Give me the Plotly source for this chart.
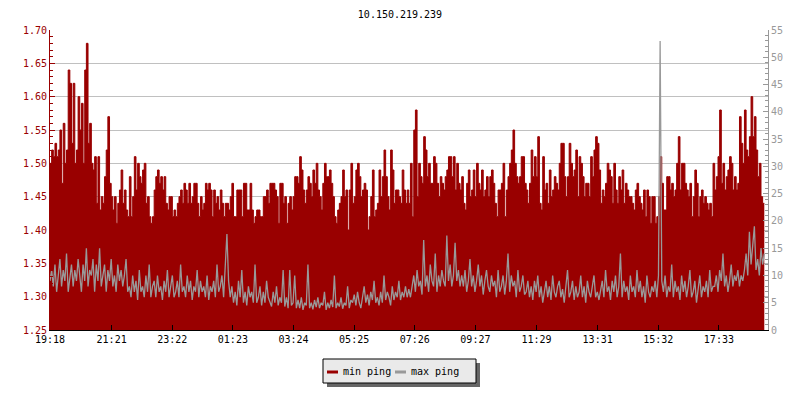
import pandas as pd
import plotly.graph_objects as go

TITLE = "10.150.219.239"
START = "2024-01-01 19:18"
END_LABEL = "19:11"
STEP_SECONDS = 198
TICK_LABELS = ["19:18", "21:21", "23:22", "01:23", "03:24", "05:25",
               "07:26", "09:27", "11:29", "13:31", "15:32", "17:33"]
LEFT_TICKS = [1.25, 1.30, 1.35, 1.40, 1.45, 1.50, 1.55, 1.60, 1.65, 1.70]
RIGHT_TICKS = [0, 5, 10, 15, 20, 25, 30, 35, 40, 45, 50, 55]
SERIES_NAMES = ["min ping", "max ping"]

MIN_PING = [
    1.50, 1.52, 1.51, 1.53, 1.51, 1.52, 1.55, 1.47, 1.56, 1.50, 1.52, 1.64, 1.62, 1.53, 1.62,
    1.50, 1.52, 1.60, 1.55, 1.59, 1.50, 1.64, 1.68, 1.53, 1.56, 1.50, 1.49, 1.51, 1.44, 1.51,
    1.43, 1.45, 1.44, 1.48, 1.52, 1.57, 1.47, 1.45, 1.43, 1.45, 1.41, 1.44, 1.46,
    1.49, 1.44, 1.46, 1.43, 1.42, 1.48, 1.42, 1.45, 1.51, 1.46, 1.50, 1.48, 1.47, 1.49, 1.50,
    1.44, 1.45, 1.42, 1.41, 1.42, 1.46, 1.48, 1.49, 1.47, 1.48, 1.46, 1.48, 1.44, 1.43, 1.45,
    1.45, 1.42, 1.43, 1.42, 1.44, 1.45, 1.46, 1.44, 1.47, 1.46, 1.44, 1.47, 1.44, 1.45, 1.47,
    1.47, 1.44, 1.42, 1.45, 1.43, 1.44, 1.47, 1.46, 1.47, 1.46, 1.42, 1.46, 1.44, 1.45, 1.43,
    1.46, 1.44, 1.42, 1.44,
    1.44, 1.43, 1.45, 1.47, 1.42, 1.42, 1.46, 1.46, 1.46, 1.42, 1.47, 1.47, 1.43, 1.43, 1.47,
    1.43, 1.41, 1.42, 1.43, 1.43, 1.42, 1.42, 1.45, 1.45, 1.46, 1.44, 1.47, 1.47, 1.47, 1.46,
    1.45, 1.41, 1.47, 1.47, 1.44, 1.45, 1.41, 1.44, 1.45, 1.43, 1.45, 1.48, 1.48, 1.47, 1.51,
    1.49, 1.46, 1.44, 1.46, 1.48, 1.47, 1.45, 1.49, 1.47, 1.50, 1.46, 1.45, 1.43, 1.47, 1.50,
    1.48, 1.48, 1.49, 1.47, 1.45, 1.42, 1.41, 1.43, 1.44, 1.45, 1.49, 1.45, 1.46, 1.40, 1.46,
    1.50, 1.44, 1.45, 1.49, 1.50, 1.48, 1.45, 1.46, 1.47, 1.46, 1.40, 1.42, 1.45, 1.49, 1.42,
    1.43, 1.44, 1.49, 1.45, 1.48, 1.52, 1.48, 1.45, 1.43, 1.52, 1.49, 1.44, 1.46, 1.46, 1.45,
    1.44, 1.49, 1.46, 1.44,
    1.46, 1.44, 1.50, 1.42, 1.55, 1.58, 1.45, 1.50, 1.48, 1.47, 1.54, 1.52, 1.48, 1.50, 1.47,
    1.47, 1.51, 1.50, 1.47, 1.45, 1.48, 1.47, 1.46, 1.48, 1.49, 1.51, 1.51, 1.48, 1.51, 1.46,
    1.50, 1.47, 1.46, 1.48, 1.44, 1.43, 1.47, 1.49, 1.45, 1.46, 1.49, 1.45, 1.50, 1.47, 1.46,
    1.49, 1.45, 1.46, 1.48, 1.45, 1.48, 1.49, 1.47, 1.44, 1.42, 1.46, 1.46, 1.47, 1.50, 1.42,
    1.46, 1.48, 1.50, 1.52, 1.55, 1.50, 1.48, 1.47, 1.48, 1.51, 1.51, 1.47, 1.46, 1.44, 1.47,
    1.52, 1.48, 1.51, 1.48, 1.54, 1.44, 1.43, 1.51, 1.46, 1.47, 1.44, 1.49, 1.45, 1.46, 1.48,
    1.47, 1.46, 1.50, 1.53, 1.53, 1.48, 1.45, 1.48, 1.53, 1.50, 1.48, 1.49, 1.52, 1.45, 1.51,
    1.50, 1.48, 1.45, 1.47,
    1.47, 1.45, 1.51, 1.48, 1.52, 1.54, 1.53, 1.49, 1.44, 1.46, 1.45, 1.47, 1.50, 1.49, 1.48,
    1.44, 1.50, 1.46, 1.44, 1.48, 1.46, 1.49, 1.44, 1.47, 1.46, 1.45, 1.45, 1.44, 1.43, 1.46,
    1.47, 1.45, 1.44, 1.43, 1.46, 1.42, 1.46, 1.45, 1.41, 1.45, 1.45, 1.41, 1.42, 1.45, 1.51,
    1.47, 1.43, 1.43, 1.48, 1.48, 1.46, 1.47, 1.45, 1.46, 1.50, 1.54, 1.46, 1.50, 1.50, 1.47,
    1.46, 1.45, 1.47, 1.42, 1.45, 1.49, 1.47, 1.42, 1.45, 1.46, 1.44, 1.45, 1.44, 1.43, 1.44,
    1.42, 1.50, 1.46, 1.48, 1.51, 1.58, 1.47, 1.50, 1.46, 1.48, 1.49, 1.51, 1.50, 1.46, 1.48,
    1.46, 1.47, 1.57, 1.53, 1.50, 1.58, 1.52, 1.51, 1.54, 1.60, 1.54, 1.57, 1.52, 1.48, 1.50,
    1.45, 1.44, 1.44,
]

MAX_PING = [
    9, 11, 8, 12, 7, 10, 13, 8, 11, 9, 14, 7, 10, 12, 8, 11, 9, 13, 10, 7,
    12, 9, 15, 8, 11, 10, 13, 7, 12, 9, 15, 8, 10, 12, 7, 11, 9, 13, 8, 10,
    7, 12, 9, 11, 8, 10, 13, 7,
    8, 6, 10, 7, 9, 5.5, 11, 7, 8, 6, 10, 7, 12, 6, 8, 9, 6, 10, 7, 8,
    5.5, 9, 7, 11, 6, 8, 10, 6, 7, 9, 6, 12, 7, 8, 6, 10, 7, 9, 5.5, 8,
    7, 11, 6, 9, 7, 8, 6, 10, 5.5, 8, 7, 9, 6, 12, 7, 8, 10, 6, 13, 17.6,
    9, 6, 8, 5, 7, 4.5, 9, 6, 11, 5, 7, 4.5, 8, 6, 7, 5, 12, 5, 6, 8,
    4.5, 7, 5, 9, 6, 5, 4.3, 7, 5, 8, 4.5, 6, 5, 11, 4.3, 6,
    4, 11, 4.5, 5, 10, 4, 5.5, 4, 6, 3.7, 5, 4.5, 12, 4, 5, 3.8, 5.5, 4.2, 6, 4,
    5, 4.5, 7, 3.7, 5, 4, 5.5, 4.2, 10, 4, 5, 4.3, 6, 3.9, 5, 4.5, 8, 4, 5.5,
    5, 6.5, 4.5, 7, 5, 4, 6, 8, 5, 6.5, 4.5, 7, 5.5, 9, 5, 6, 4.5, 7, 5, 10,
    5.5, 7, 6, 4.5, 8, 5.5, 7, 6, 9, 5.5, 7, 6, 8, 6, 7.5, 6,
    8, 10, 7, 11, 8, 9, 6.5, 16.5, 8, 10, 7, 12, 9, 8, 14, 7, 10, 8, 11, 9,
    8, 17.3, 9, 12, 8, 10, 16, 9, 11, 8,
    10, 8, 11, 7, 9, 13, 8, 10, 7, 9, 12, 8, 10, 6.5, 9, 11, 8, 7, 10, 8,
    9, 6, 11, 7, 8, 10, 6.5, 9, 14, 7, 10, 8, 9, 6, 11, 7, 8, 10, 6.5,
    7, 9, 6, 8, 5.5, 9, 7, 10, 6, 8, 5, 7, 9, 6, 8, 5.5, 10, 7, 6, 8,
    9, 6, 7.5, 5, 8, 11, 6, 7, 9, 5.5, 8, 6, 7, 10, 6, 8, 5, 9, 7, 6,
    8, 10, 6, 7, 5.5,
    7, 9, 6, 11, 7, 8, 5.5, 9, 7, 10, 6, 8, 14, 6, 9, 7, 8, 5.5, 10, 7,
    8, 6, 11, 7, 9, 6, 8, 5, 10, 7, 6, 8, 7, 9, 6, 10,
    53,
    9, 7, 10, 6, 8, 7, 12, 6, 9, 7, 8, 5.5, 10, 7, 9, 6, 8, 11, 6, 7,
    9, 5, 8, 10, 6, 8, 7, 9, 6, 11, 7, 8,
    8, 10, 7, 11, 9, 14, 8, 10, 7, 9, 12, 8, 10, 9, 11, 8, 10, 9,
    11, 14, 10, 18, 12, 15, 19, 11, 13, 10, 15, 12, 14,
]

RED = "#990000"
GREY = "#999999"
FONT = "DejaVu Sans Mono"

start = pd.Timestamp(START)


def label_time(lbl):
    t = pd.Timestamp(start.strftime("%Y-%m-%d") + " " + lbl)
    if t < start:
        t += pd.Timedelta(days=1)
    return t


t_min = pd.date_range(start, periods=len(MIN_PING), freq=f"{STEP_SECONDS}s")
t_max = pd.date_range(start, periods=len(MAX_PING), freq=f"{STEP_SECONDS}s")
tick_vals = [label_time(l) for l in TICK_LABELS]
end = label_time(END_LABEL)

# The page body has an 8px default margin, so the figure is drawn 8px in.
OFF = 8
W, H = 800 - OFF, 400 - OFF
PLOT_L, PLOT_R, PLOT_T, PLOT_B = 50, 768, 30, 330   # target page pixels
ML, MT = PLOT_L - OFF, PLOT_T - OFF
MR, MB = W - (PLOT_R - OFF), H - (PLOT_B - OFF)
PW, PH = W - ML - MR, H - MT - MB


def px(x):
    return (x - OFF - ML) / PW


def py(y):
    return (H - MB - (y - OFF)) / PH


fig = go.Figure()
fig.add_trace(go.Scatter(
    x=t_min, y=MIN_PING, name=SERIES_NAMES[0], mode="lines",
    line=dict(color=RED, width=1, shape="hv"), fill="tozeroy", fillcolor=RED,
    yaxis="y",
))
fig.add_trace(go.Scatter(
    x=t_max, y=MAX_PING, name=SERIES_NAMES[1], mode="lines",
    line=dict(color=GREY, width=1.3, shape="linear"), yaxis="y2",
))

shapes = [
    dict(type="rect", xref="paper", yref="paper", x0=px(327), x1=px(480),
         y0=py(387), y1=py(363), fillcolor="#666666", line=dict(width=0), layer="above"),
    dict(type="rect", xref="paper", yref="paper", x0=px(323), x1=px(476),
         y0=py(383), y1=py(359), fillcolor="#eaeaea", line=dict(color="black", width=1),
         layer="above"),
    dict(type="line", xref="paper", yref="paper", x0=px(327), x1=px(338),
         y0=py(372), y1=py(372), line=dict(color=RED, width=3), layer="above"),
    dict(type="line", xref="paper", yref="paper", x0=px(395), x1=px(406),
         y0=py(372), y1=py(372), line=dict(color=GREY, width=3), layer="above"),
]
annotations = [
    dict(xref="paper", yref="paper", x=px(341), y=py(371), text=SERIES_NAMES[0],
         showarrow=False, xanchor="left", yanchor="middle",
         font=dict(family=FONT, size=10, color="black")),
    dict(xref="paper", yref="paper", x=px(409), y=py(371), text=SERIES_NAMES[1],
         showarrow=False, xanchor="left", yanchor="middle",
         font=dict(family=FONT, size=10, color="black")),
]

fig.update_layout(
    width=W, height=H,
    margin=dict(l=ML, r=MR, t=MT, b=MB, autoexpand=False),
    paper_bgcolor="white", plot_bgcolor="white",
    showlegend=False,
    title=dict(text=TITLE, x=(400 - OFF) / W, xanchor="center",
               y=1 - (14 - OFF) / H, yanchor="middle",
               yref="container", xref="container", automargin=False,
               font=dict(family=FONT, size=10, color="black")),
    xaxis=dict(type="date", range=[start, end], tickvals=tick_vals, ticktext=TICK_LABELS,
               ticks="inside", ticklen=5, tickcolor="black", showline=True,
               linecolor="black", linewidth=1, showgrid=False, zeroline=False,
               automargin=False,
               tickfont=dict(family=FONT, size=10, color="black")),
    yaxis=dict(range=[1.25, 1.70], tickvals=LEFT_TICKS, tickformat=".2f",
               ticks="inside", ticklen=5, tickcolor=RED, showline=True, linecolor=RED,
               linewidth=1, showgrid=True, gridcolor="#c0c0c0", gridwidth=1,
               zeroline=False, automargin=False,
               tickfont=dict(family=FONT, size=10, color=RED),
               minor=dict(dtick=0.01, ticks="inside", ticklen=3, tickcolor=RED,
                          showgrid=False)),
    yaxis2=dict(range=[0, 55], tickvals=RIGHT_TICKS, overlaying="y", side="right",
                ticks="inside", ticklen=5, tickcolor=GREY, showline=True,
                linecolor=GREY, linewidth=1, showgrid=False, zeroline=False,
                automargin=False,
                tickfont=dict(family=FONT, size=10, color=GREY),
                minor=dict(dtick=1, ticks="inside", ticklen=3, tickcolor=GREY,
                           showgrid=False)),
    shapes=shapes, annotations=annotations,
)

fig.write_html("out.html")
